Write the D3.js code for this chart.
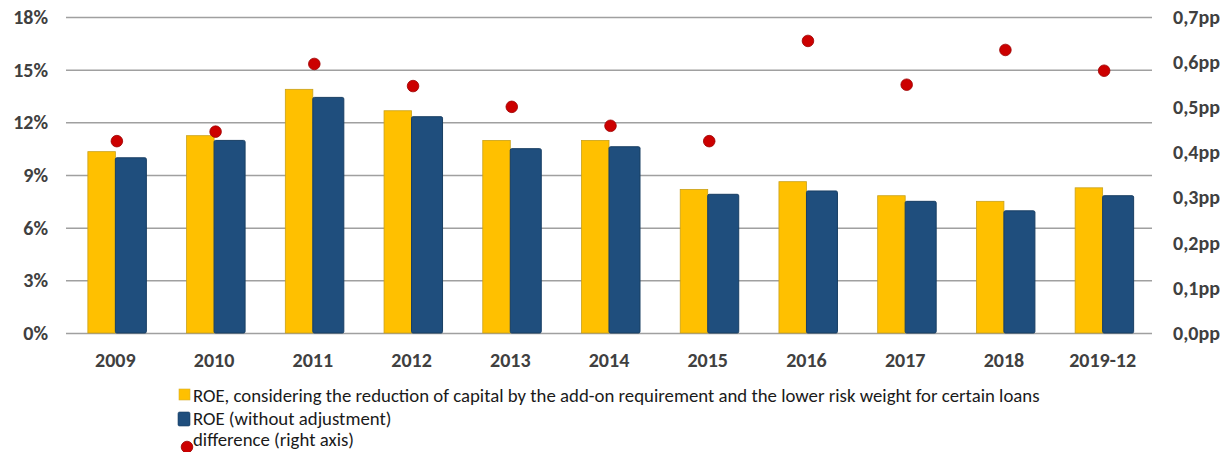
<!DOCTYPE html>
<html>
<head>
<meta charset="utf-8">
<script src="https://cdn.jsdelivr.net/npm/d3@7"></script>
<style>
  body { margin: 0; background: #fff; }
  #chart text { font-family: Carlito, Calibri, Lato, "Liberation Sans", sans-serif; }
  .tick text { font-weight: bold; fill: #404040; font-size: 20px; }
  .legend text { font-size: 18.8px; fill: #1a1a1a; }
</style>
</head>
<body>
<div id="chart"></div>
<script>
// Categories and series
var years = ["2009", "2010", "2011", "2012", "2013", "2014", "2015", "2016", "2017", "2018", "2019-12"];
var roeAdjusted = [10.33, 11.24, 13.88, 12.66, 10.97, 10.97, 8.18, 8.62, 7.82, 7.50, 8.27];
var roePlain = [9.98, 10.97, 13.42, 12.32, 10.50, 10.61, 7.90, 8.09, 7.50, 6.96, 7.82];
var difference = [0.425, 0.446, 0.596, 0.547, 0.501, 0.459, 0.425, 0.647, 0.550, 0.627, 0.581];

var leftTicks = [0, 3, 6, 9, 12, 15, 18];
var rightTicks = [0, 0.1, 0.2, 0.3, 0.4, 0.5, 0.6, 0.7];
var legendLabels = [
  "ROE, considering the reduction of capital by the add-on requirement and the lower risk weight for certain loans",
  "ROE (without adjustment)",
  "difference (right axis)"
];

var W = 1227, H = 452;
var plotLeft = 66, plotRight = 1152, plotTop = 17, plotBottom = 333;

var svg = d3.select("#chart")
  .append("svg")
  .attr("width", W)
  .attr("height", H);

// scales
var x = d3.scaleBand().domain(years).range([plotLeft, plotRight]).paddingInner(0);
var yL = d3.scaleLinear().domain([0, 18]).range([plotBottom, plotTop]);
var yR = d3.scaleLinear().domain([0, 0.7]).range([plotBottom, plotTop]);

// left axis + gridlines
var gl = svg.append("g")
  .attr("transform", "translate(" + plotLeft + ",0)")
  .call(d3.axisLeft(yL)
    .tickValues(leftTicks)
    .tickSize(-(plotRight - plotLeft))
    .tickPadding(18)
    .tickFormat(function(d) { return d + "%"; }));
gl.select(".domain").remove();
gl.selectAll(".tick line").attr("stroke", "#a0a0a0").attr("stroke-width", 1.5);

// right axis, labels only
var gr = svg.append("g")
  .attr("transform", "translate(" + plotRight + ",0)")
  .call(d3.axisRight(yR)
    .tickValues(rightTicks)
    .tickSize(0)
    .tickPadding(21)
    .tickFormat(function(d) { return d3.format(".1f")(d).replace(".", ",") + "pp"; }));
gr.select(".domain").remove();

// x axis labels
var gx = svg.append("g")
  .attr("transform", "translate(0," + plotBottom + ")")
  .call(d3.axisBottom(x).tickSize(0).tickPadding(20));
gx.select(".domain").remove();

var bw = x.bandwidth();

// yellow bars
svg.selectAll(".bar-adj")
  .data(roeAdjusted)
  .enter()
  .append("rect")
  .attr("class", "bar-adj")
  .attr("x", function(d, i) { return x(years[i]) + bw / 2 - 27.5; })
  .attr("y", function(d) { return yL(d); })
  .attr("width", 27.5)
  .attr("height", function(d) { return yL(0) - yL(d); })
  .attr("fill", "#ffc000")
  .attr("stroke", "#c9a11a")
  .attr("stroke-width", 0.8);

// blue bars
svg.selectAll(".bar-plain")
  .data(roePlain)
  .enter()
  .append("rect")
  .attr("class", "bar-plain")
  .attr("x", function(d, i) { return x(years[i]) + bw / 2; })
  .attr("y", function(d) { return yL(d); })
  .attr("width", 31)
  .attr("height", function(d) { return yL(0) - yL(d); })
  .attr("rx", 1.5)
  .attr("fill", "#1f4e7d")
  .attr("stroke", "#183e63")
  .attr("stroke-width", 1);

// difference dots (right axis)
svg.selectAll(".dot")
  .data(difference)
  .enter()
  .append("circle")
  .attr("class", "dot")
  .attr("cx", function(d, i) { return x(years[i]) + bw / 2 + 1.5; })
  .attr("cy", function(d) { return yR(d); })
  .attr("r", 5.8)
  .attr("fill", "#cc0000")
  .attr("stroke", "#9c0000")
  .attr("stroke-width", 0.8);

// legend
var lg = svg.append("g").attr("class", "legend");
var rowY = [395, 418, 439];

lg.append("rect")
  .attr("x", 179).attr("y", rowY[0] - 6)
  .attr("width", 11).attr("height", 11)
  .attr("fill", "#ffc000").attr("stroke", "#d8b030").attr("stroke-width", 0.6);
lg.append("rect")
  .attr("x", 178).attr("y", rowY[1] - 6)
  .attr("width", 12).attr("height", 14)
  .attr("rx", 1.5)
  .attr("fill", "#1f4e7d").attr("stroke", "#183e63").attr("stroke-width", 0.6);
lg.append("circle")
  .attr("cx", 187).attr("cy", 447).attr("r", 5.8)
  .attr("fill", "#cc0000").attr("stroke", "#9c0000").attr("stroke-width", 0.8);

lg.selectAll(".legend-text")
  .data(legendLabels)
  .enter()
  .append("text")
  .attr("class", "legend-text")
  .attr("x", 193)
  .attr("y", function(d, i) { return rowY[i]; })
  .attr("dy", "0.35em")
  .text(function(d) { return d; });
</script>
</body>
</html>
